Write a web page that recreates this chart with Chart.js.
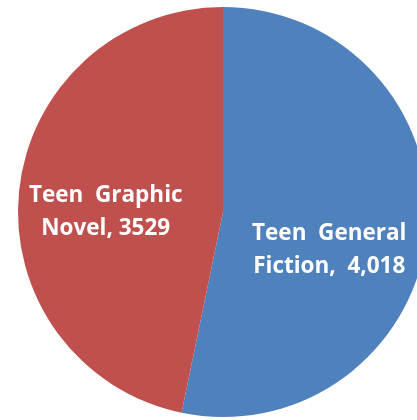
<!DOCTYPE html>
<html>
<head>
<meta charset="utf-8">
<script src="https://cdn.jsdelivr.net/npm/chart.js@4.4.1/dist/chart.umd.min.js"></script>
<style>
  html, body { margin: 0; padding: 0; background: #fff; overflow: hidden; }
  #wrap { width: 446px; height: 424px; }
</style>
</head>
<body>
<div id="wrap"><canvas id="pie" width="446" height="424"></canvas></div>
<script>
// values
const categories = ['Teen  General', 'Teen  Graphic'];
const secondLine = ['Fiction,  4,018', 'Novel, 3529'];
const values = [4018, 3529];
const colors = ['#4F81BD', '#C0504D'];

// draws the two-line white labels inside each slice
const sliceLabels = {
  id: 'sliceLabels',
  afterDatasetsDraw(chart, args, opts) {
    const ctx = chart.ctx;
    const meta = chart.getDatasetMeta(0);
    ctx.save();
    ctx.fillStyle = '#fff';
    ctx.font = opts.font;
    ctx.textAlign = 'center';
    ctx.textBaseline = 'middle';
    meta.data.forEach(function(arc, i) {
      let p = arc.getProps(['x', 'y', 'startAngle', 'endAngle', 'outerRadius'], true);
      let mid = (p.startAngle + p.endAngle) / 2;
      let r = p.outerRadius * opts.radiusFrac;
      let off = opts.offsets[i];
      let x = p.x + Math.cos(mid) * r + off[0];
      let y = p.y + Math.sin(mid) * r + off[1];
      ctx.fillText(categories[i], x, y - opts.lineGap / 2);
      ctx.fillText(secondLine[i], x, y + opts.lineGap / 2);
    });
    ctx.restore();
  }
};

new Chart(document.getElementById('pie'), {
  type: 'pie',
  data: {
    labels: categories,
    datasets: [{
      data: values,
      backgroundColor: colors,
      borderWidth: 0
    }]
  },
  options: {
    responsive: false,
    animation: false,
    layout: { padding: { top: 7, bottom: 7 } },
    plugins: {
      legend: { display: false },
      tooltip: { enabled: false },
      sliceLabels: {
        font: 'bold 22.5px "Open Sans"',
        radiusFrac: 0.57,
        lineGap: 33,
        offsets: [[-10, 26], [-1, 12]]
      }
    }
  },
  plugins: [sliceLabels]
});
</script>
</body>
</html>
